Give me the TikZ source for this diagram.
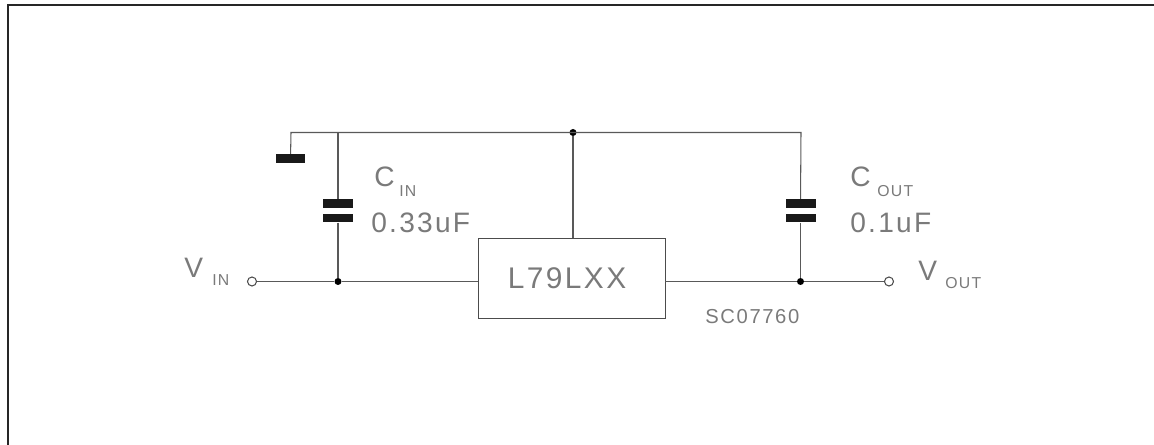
\documentclass[tikz,border=0pt]{standalone}
\usepackage{fontspec}
\setmainfont[LetterSpace=8]{Liberation Sans}
\tikzset{
  wire/.style={line width=0.6pt,black!65},
  plate/.style={fill=black!90,inner sep=0pt,minimum width=0.6cm,minimum height=0.17cm},
  joint/.style={circle,fill=black,inner sep=0pt,minimum size=0.14cm},
  port/.style={circle,draw=black!70,line width=0.6pt,fill=white,inner sep=0pt,minimum size=0.18cm},
  big/.style={inner sep=0pt,text=black!52,font=\fontsize{16}{16}\selectfont},
  small/.style={inner sep=0pt,text=black!52,font=\fontsize{9}{9}\selectfont},
}
\begin{document}
\begin{tikzpicture}[x=0.02cm,y=-0.02cm]
\useasboundingbox (0,0) rectangle (1154,445);
\coordinate (ft) at (1154,5);
\coordinate (fc) at (8,5);
\coordinate (fb) at (8,445);
\draw[line width=1.6pt,black!85](ft)--(fc)--(fb);
% circuit
\node[draw=black!70,line width=0.55pt,minimum width=3.74cm,minimum height=1.6cm,inner sep=0pt,text=black!52,font=\fontsize{17}{17}\selectfont](reg) at (571.5,278){\raisebox{-1pt}{L79LXX}\hspace{5pt}\mbox{}};
\coordinate (gt) at (291,132.5);
\node[plate] (gnd) at (290.5,158.5){};
\node[joint] (top) at (573,132.5){};
\coordinate (ct) at (338,132.5);
\coordinate (dt) at (801,132.5);
\node[plate] (c1a) at (338,203.5){};
\node[plate] (c1b) at (338,218){};
\node[plate] (c2a) at (800.5,203.5){};
\node[plate] (c2b) at (800.5,218){};
\node[joint] (c1j) at (338,281.5){};
\node[joint] (c2j) at (800.5,281.5){};
\node[port] (vin) at (252,281.5){};
\node[port] (vout) at (889,281.5){};
\draw[wire](gnd)--(gt)--(dt)--(c2a);
\draw[wire](top)--(reg.north -| top);
\draw[wire](ct)--(c1a);
\draw[wire](c1b)--(c1j);
\draw[wire](c2b)--(c2j);
\draw[wire](vin)--(c1j)--(reg.west |- c1j);
\draw[wire](reg.east |- c2j)--(c2j)--(vout);
% labels
\node[big,anchor=west](cin) at (374,177){C};
\node[small,anchor=west](cinb) at (399,191){IN};
\node[big,anchor=west](cinv) at (371,223){0.33uF};
\node[big,anchor=west](coutl) at (850,177){C};
\node[small,anchor=west](coutb) at (877,191){OUT};
\node[big,anchor=west](coutv) at (850,223){0.1uF};
\node[big,anchor=west](vinl) at (184,268){V};
\node[small,anchor=west](vinb) at (212,280){IN};
\node[big,anchor=west](voutl) at (918,271){V};
\node[small,anchor=west](voutb) at (945,283.5){OUT};
\node[small,anchor=west,font=\fontsize{11.5}{11.5}\selectfont](code) at (705,317){SC07760};
\end{tikzpicture}
\end{document}
